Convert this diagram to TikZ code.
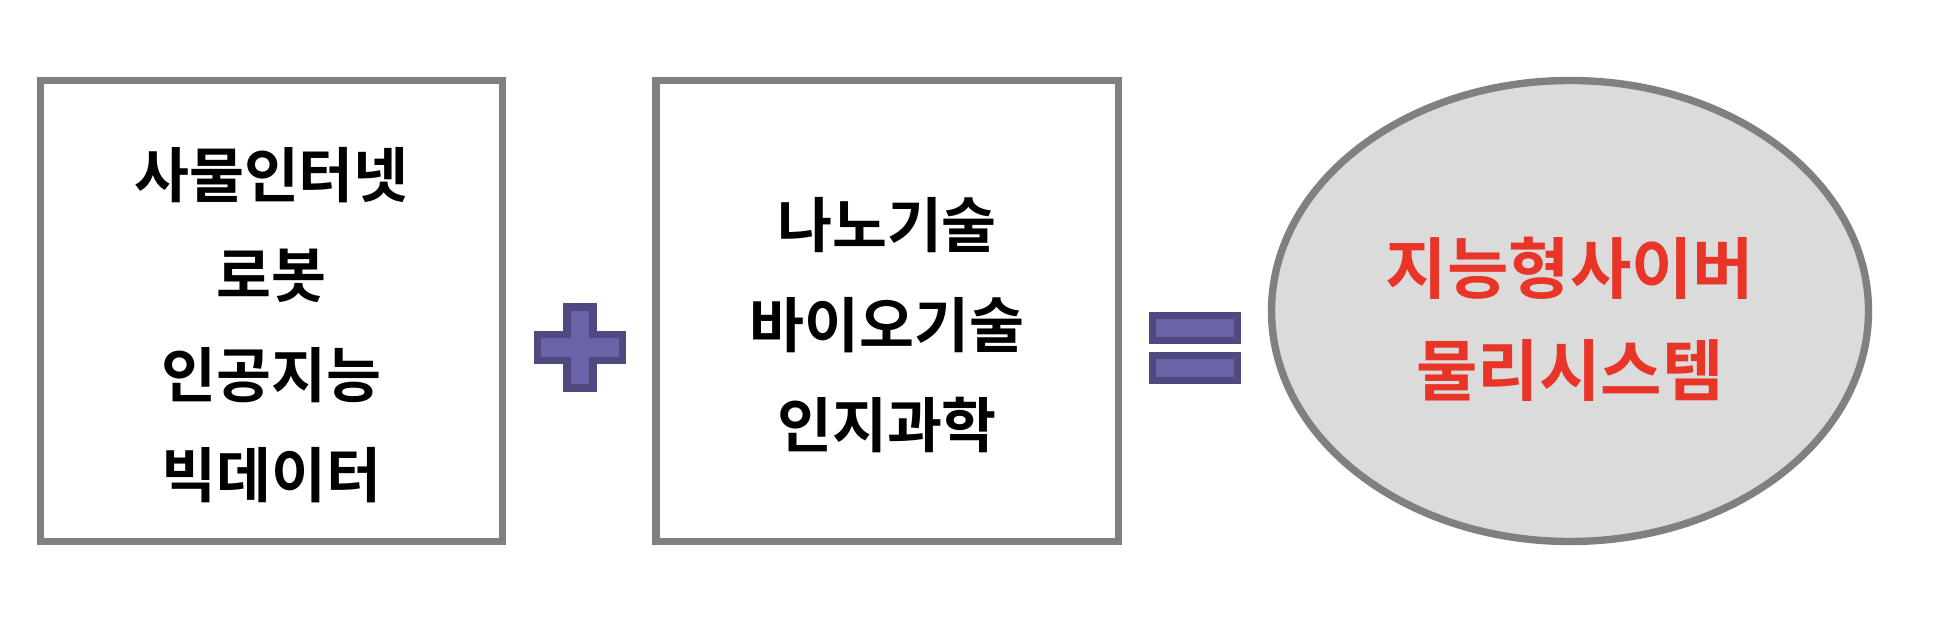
\documentclass[tikz,border=0pt]{standalone}
\usepackage{fontspec}
\setmainfont{Noto Sans CJK KR}[BoldFont=* Bold]
\usepackage{xcolor}
\usepackage{tikz}
\usetikzlibrary{positioning, calc, shapes.geometric}
\definecolor{framegray}{RGB}{128,128,128}
\definecolor{signfill}{RGB}{107,99,168}
\definecolor{signedge}{RGB}{78,73,126}
\definecolor{cpsred}{RGB}{232,53,40}
\definecolor{cpsfill}{RGB}{219,219,219}
\tikzset{
  techbox/.style={draw=framegray, line width=2pt, minimum width=4.62cm, minimum height=4.61cm, fill=white},
  techtext/.style={align=center, font=\bfseries\fontsize{17}{28.5}\selectfont},
  result/.style={draw=framegray, ellipse, line width=2.1pt, minimum width=5.97cm, minimum height=4.61cm, fill=cpsfill},
  resulttext/.style={align=center, text=cpsred, font=\bfseries\fontsize{19}{29}\selectfont},
  sign/.style={draw=signedge, fill=signfill, line width=2pt}
}
\newcommand{\plussign}[3]{%
  \begin{scope}[shift={(#1,#2)}]
    \coordinate (#3) at (0,0);
    \draw[sign] (-0.13,0.405) -- (0.13,0.405) -- (0.13,0.13) -- (0.425,0.13) -- (0.425,-0.13)
      -- (0.13,-0.13) -- (0.13,-0.405) -- (-0.13,-0.405) -- (-0.13,-0.13) -- (-0.425,-0.13)
      -- (-0.425,0.13) -- (-0.13,0.13) -- cycle;
  \end{scope}
}
\newcommand{\equalsign}[3]{%
  \begin{scope}[shift={(#1,#2)}]
    \coordinate (#3) at (0,0);
    \draw[sign] (-0.425,0.075) rectangle (0.425,0.325);
    \draw[sign] (-0.425,-0.325) rectangle (0.425,-0.075);
  \end{scope}
}
\begin{document}
\begin{tikzpicture}
        \useasboundingbox (0,0) rectangle (19.44,6.18);

        % Technology boxes
        \node[techbox] (ict) at (2.715,3.07) {};
        \node[techtext] (ictlist) at ($(ict.center)+(0,-0.14)$) {사물인터넷\\로봇\\인공지능\\빅데이터};
        \node[techbox] (nbic) at (8.87,3.07) {};
        \node[techtext] (nbiclist) at ($(nbic.center)+(0,-0.14)$) {나노기술\\바이오기술\\인지과학};

        % Signs
        \plussign{5.80}{2.705}{plus}
        \equalsign{11.95}{2.70}{equals}

        % Result
        \node[result] (cps) at (15.70,3.07) {};
        \node[resulttext] (cpsname) at ($(cps.center)+(0,-0.08)$) {지능형사이버\\물리시스템};
    \end{tikzpicture}
\end{document}
